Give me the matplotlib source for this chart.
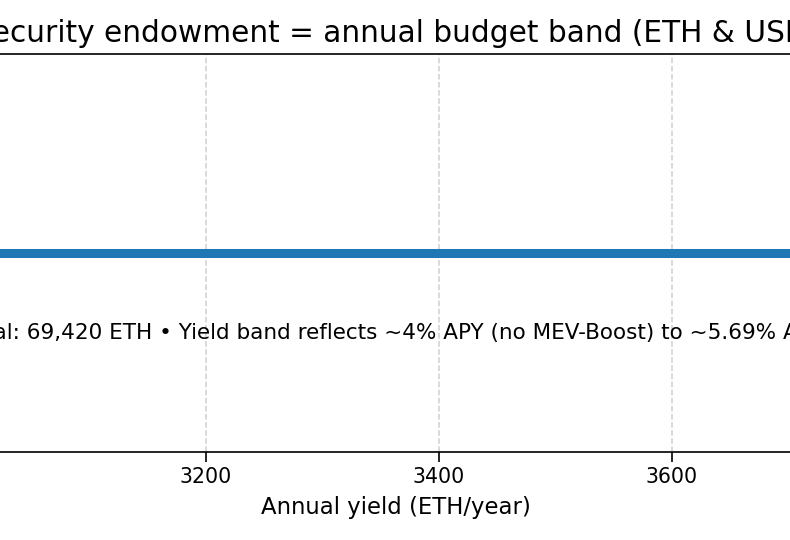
import matplotlib
matplotlib.use("Agg")
import matplotlib.pyplot as plt

plt.rcParams["font.family"] = ["DejaVu Sans"]

principal_eth = 69420
apy_low = 0.04
apy_high = 0.0569
yield_band = [principal_eth * apy_low, principal_eth * apy_high]
note = ("Principal: 69,420 ETH \u2022 Yield band reflects ~4% APY (no MEV-Boost) "
        "to ~5.69% APY (MEV)")

fig = plt.figure(figsize=(7.9, 5.4), dpi=100)
# the chart is wider than the frame: only its middle part shows
ax = fig.add_axes([-0.4499, 0.163, 1.9032, 0.737])

ax.hlines(0, yield_band[0], yield_band[1], color="#1f77b4", linewidth=6.5, zorder=3)
ax.set_ylim(-1, 1)
ax.set_yticks([])
ax.set_xticks([2800, 3000, 3200, 3400, 3600, 3800, 4000])
ax.set_xlim(yield_band[0] - 0.05 * (yield_band[1] - yield_band[0]),
            yield_band[1] + 0.05 * (yield_band[1] - yield_band[0]))
ax.grid(axis="x", linestyle="--", color="#b0b0b0", alpha=0.6, linewidth=1.1)
ax.tick_params(axis="x", labelsize=14.8, length=7, width=1.2)
for s in ax.spines.values():
    s.set_linewidth(1.2)

ax.annotate(note, (sum(yield_band) / 2, -0.4), xytext=(8, 0),
            textcoords="offset points", ha="center", va="center", fontsize=15.45)
ax.set_xlabel("Annual yield (ETH/year)", fontsize=16.4, labelpad=7)
ax.set_title("Security endowment = annual budget band (ETH & USD)", fontsize=21.3, pad=9)

fig.savefig("out.png", dpi=100)
